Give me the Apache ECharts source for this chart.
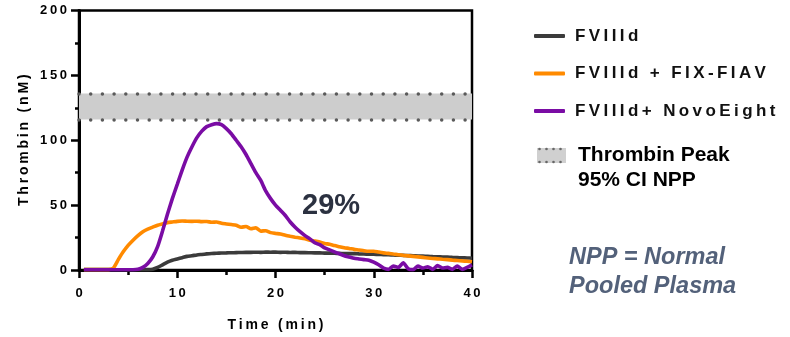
<!DOCTYPE html>
<html>
<head>
<meta charset="utf-8">
<script src="https://cdn.jsdelivr.net/npm/echarts@6/dist/echarts.min.js"></script>
<style>html,body{margin:0;padding:0;background:#fff}#c{width:790px;height:337px}</style>
</head>
<body>
<div id="c"></div>
<script>
// ---- data ----
var times = [0.5,1,1.5,2,2.5,3,3.5,4,4.5,5,5.5,6,6.5,7,7.5,8,8.5,9,9.5,10,10.5,11,11.5,12,12.5,13,13.5,14,14.5,15,15.5,16,16.5,17,17.5,18,18.5,19,19.5,20,20.5,21,21.5,22,22.5,23,23.5,24,24.5,25,25.5,26,26.5,27,27.5,28,28.5,29,29.5,30,30.5,31,31.5,32,32.5,33,33.5,34,34.5,35,35.5,36,36.5,37,37.5,38,38.5,39,39.5,40];

var fviiid = [0.3,0.3,0.3,0.3,0.3,0.3,0.3,0.2,0.2,0.2,0.2,0.2,0.2,0.3,
  0.6,2,4,6,7.5,8.5,
  9.5,10.5,11,11.6,12,12.4,12.7,12.9,13.1,13.2,
  13.3,13.4,13.5,13.6,13.6,13.7,13.6,13.8,13.7,13.8,
  13.6,13.7,13.5,13.6,13.4,13.4,13.3,13.2,13.2,13.0,
  13.0,12.9,12.8,12.7,12.6,12.6,12.4,12.3,12.2,12.1,
  12.0,11.8,11.7,11.6,11.4,11.3,11.1,11.0,10.8,10.7,
  10.5,10.3,10.2,10.0,9.9,9.7,9.6,9.4,9.3,9.1];

var fixfiav = [0.3,0.3,0.3,0.3,0.3,0.3,
  1.5,8,14,19,23,26.5,29.5,31.5,33,34.5,35.5,36.5,37,37.5,
  37.8,37.6,37.5,37.6,37.3,37.4,36.8,37,36,35.5,
  35,34.5,33,33.5,31.8,32.5,30,30.3,28.8,28.2,
  27.8,26.8,26,25.3,24.7,24,23,22.3,21.5,20.5,
  19.8,18.8,18,17.2,16.6,15.9,15.4,14.8,14.4,14.5,
  13.8,13.2,12.8,12.3,11.8,11.3,10.9,10.5,10.1,9.7,
  9.3,8.9,8.6,8.3,8,7.6,7.3,7,6.7,6.3];

var novoeight = [0.2,0.2,0.2,0.2,0.2,0.2,0.2,0.2,0.2,0.2,0.2,
  0.5,2,5,10,18,30,43,55,66,
  77,87,95,102,107,110.5,112,112.8,112,109,
  105,100,95,89,82,75,69,61,55,50,
  46,42,37,33,29.5,26.5,24,21,19.5,17,
  15.5,14,12.5,11,10,9,8.5,8,7.5,6,
  4,1.5,0.5,3,2,5.5,1,0.3,3,1.5,
  2.5,0.5,3.5,1.5,2,0.5,3,0.5,2,4];

var seriesNames = ['FVIIId', 'FVIIId + FIX-FIAV', 'FVIIId+ NovoEight'];
var ciBand = [116, 136];           // Thrombin peak 95% CI of NPP (nM)
var xTicks = {min: 0, max: 40, interval: 10};
var yTicks = {min: 0, max: 200, interval: 50};

// ---- helpers ----
function spaced(s) { return String(s).split('').join('\u2009'); }
function pairs(vals) { return times.map(function (t, i) { return [t, vals[i]]; }); }

var FONT = "'Liberation Sans', Arial, sans-serif";
var chart = echarts.init(document.getElementById('c'), null, {renderer: 'canvas'});

function lineSeries(name, vals, color) {
  return {
    name: name, type: 'line', data: pairs(vals), showSymbol: false, symbol: 'none',
    smooth: 0.2, lineStyle: {width: 3.6, color: color}, itemStyle: {color: color},
    animation: false, z: 3
  };
}

var s0 = lineSeries(seriesNames[0], fviiid, '#3b3b3b');
var s1 = lineSeries(seriesNames[1], fixfiav, '#ff8a00');
var s2 = lineSeries(seriesNames[2], novoeight, '#7a0ca4');

s0.markArea = {
  silent: true, z: 1,
  itemStyle: {color: '#cdcdcd'},
  data: [[{yAxis: ciBand[0]}, {yAxis: ciBand[1]}]]
};
s0.markLine = {
  silent: true, symbol: ['none', 'none'], label: {show: false},
  lineStyle: {color: '#5a5a5a', width: 3.5, type: [0, 11.7], cap: 'round', opacity: 1},
  emphasis: {disabled: true},
  data: [{yAxis: ciBand[0]}, {yAxis: ciBand[1]}]
};

var axisLabel = {fontFamily: FONT, fontWeight: 'bold', fontSize: 13, color: '#000', formatter: function (v) { return spaced(v); }};

chart.setOption({
  animation: false,
  backgroundColor: '#fff',
  grid: {left: 79, right: 318, top: 10.5, bottom: 65.5, show: true, borderColor: '#000', borderWidth: 2.5, backgroundColor: 'transparent'},
  xAxis: {
    type: 'value', min: xTicks.min, max: xTicks.max, interval: xTicks.interval,
    name: spaced('Time (min)'), nameLocation: 'middle', nameGap: 48,
    nameTextStyle: {fontFamily: FONT, fontWeight: 'bold', fontSize: 14, color: '#000'},
    axisLine: {show: true, lineStyle: {color: '#000', width: 3}},
    axisTick: {show: true, length: 8, inside: false, lineStyle: {color: '#000', width: 2.5}},
    minorTick: {show: true, splitNumber: 2, length: 5, lineStyle: {color: '#000', width: 2.5}},
    splitLine: {show: false},
    axisLabel: Object.assign({margin: 17}, axisLabel)
  },
  yAxis: {
    type: 'value', min: yTicks.min, max: yTicks.max, interval: yTicks.interval,
    name: spaced('Thrombin (nM)'), nameLocation: 'middle', nameGap: 48, nameRotate: 90,
    nameTextStyle: {fontFamily: FONT, fontWeight: 'bold', fontSize: 14, color: '#000'},
    axisLine: {show: true, lineStyle: {color: '#000', width: 3}},
    axisTick: {show: true, length: 8, inside: false, lineStyle: {color: '#000', width: 2.5}},
    minorTick: {show: true, splitNumber: 2, length: 4, lineStyle: {color: '#000', width: 2.5}},
    splitLine: {show: false},
    axisLabel: Object.assign({margin: 12}, axisLabel)
  },
  legend: {
    orient: 'vertical', left: 529, top: 21, itemWidth: 31, itemHeight: 4, itemGap: 17.5,
    icon: 'roundRect', selectedMode: false,
    data: seriesNames,
    formatter: function (n) { return spaced(n); },
    textStyle: {fontFamily: FONT, fontWeight: 'bold', fontSize: 17, color: '#111', lineHeight: 20, padding: [0, 0, 0, 5]}
  },
  graphic: [
    {type: 'rect', shape: {x: 537, y: 148, width: 29, height: 15}, style: {fill: '#d0d0d0'}},
    {type: 'circle', shape: {cx: 539.5, cy: 149, r: 1.3}, style: {fill: '#666'}},
    {type: 'circle', shape: {cx: 546.5, cy: 149, r: 1.3}, style: {fill: '#666'}},
    {type: 'circle', shape: {cx: 553.5, cy: 149, r: 1.3}, style: {fill: '#666'}},
    {type: 'circle', shape: {cx: 560.5, cy: 149, r: 1.3}, style: {fill: '#666'}},
    {type: 'circle', shape: {cx: 539.5, cy: 162, r: 1.3}, style: {fill: '#666'}},
    {type: 'circle', shape: {cx: 546.5, cy: 162, r: 1.3}, style: {fill: '#666'}},
    {type: 'circle', shape: {cx: 553.5, cy: 162, r: 1.3}, style: {fill: '#666'}},
    {type: 'circle', shape: {cx: 560.5, cy: 162, r: 1.3}, style: {fill: '#666'}},
    {type: 'text', left: 578, top: 143, style: {text: 'Thrombin Peak\n95% CI NPP', fontFamily: FONT, fontWeight: 'bold', fontSize: 21, lineHeight: 25, fill: '#000'}},
    {type: 'text', left: 569, top: 243, style: {text: 'NPP = Normal\nPooled Plasma', fontFamily: FONT, fontWeight: 'bold', fontStyle: 'italic', fontSize: 23.5, lineHeight: 29, fill: '#53617a'}},
    {type: 'text', left: 302, top: 191, style: {text: '29%', fontFamily: FONT, fontWeight: 'bold', fontSize: 29, fill: '#2b3140'}}
  ],
  series: [s0, s1, s2]
});
</script>
</body>
</html>
